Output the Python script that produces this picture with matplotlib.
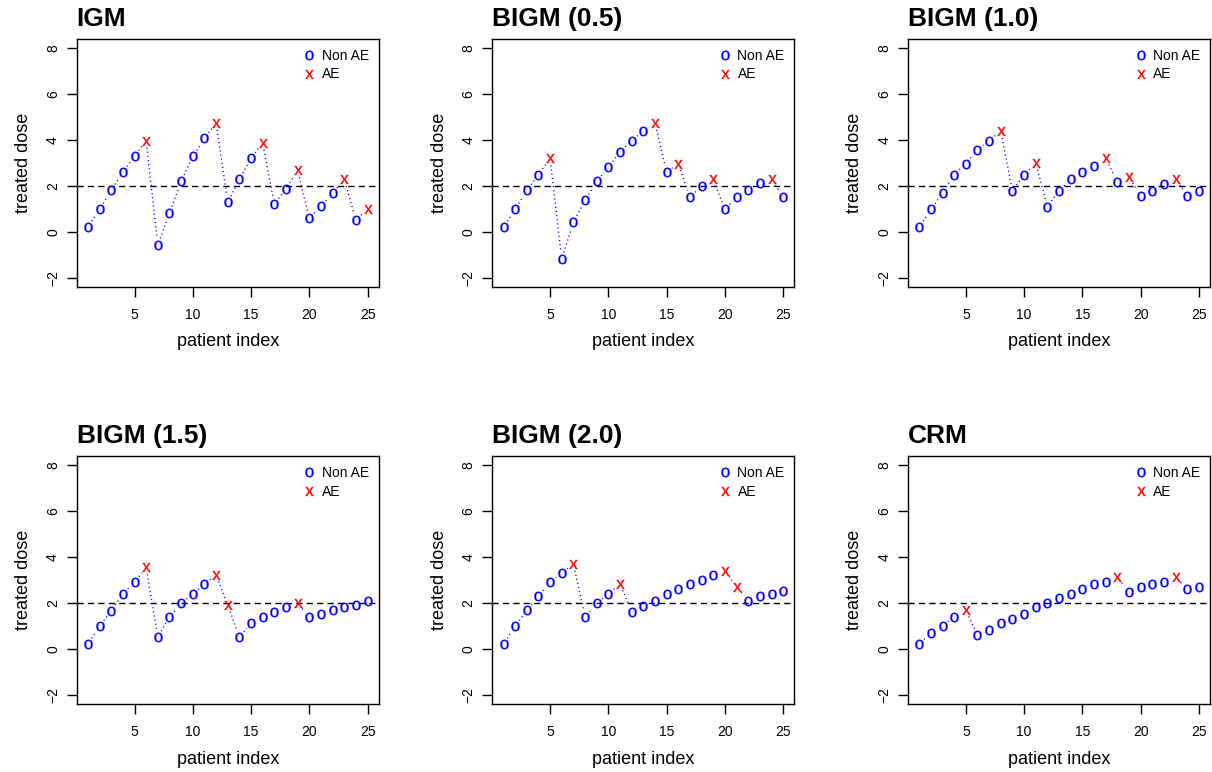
import matplotlib
matplotlib.use('Agg')
import matplotlib.pyplot as plt
import numpy as np
from matplotlib.lines import Line2D

plt.rcParams['font.family'] = ['Liberation Sans', 'DejaVu Sans']
plt.rcParams['mathtext.default'] = 'regular'

patients = np.arange(1, 26)

titles = ['IGM', 'BIGM (0.5)', 'BIGM (1.0)', 'BIGM (1.5)', 'BIGM (2.0)', 'CRM']

dose_igm = [0.20, 0.97, 1.80, 2.59, 3.29, 3.97, -0.58, 0.80, 2.19, 3.28, 4.06, 4.74, 1.28,
            2.28, 3.19, 3.87, 1.20, 1.87, 2.67, 0.58, 1.12, 1.67, 2.28, 0.51, 0.97]
dose_b05 = [0.20, 0.97, 1.80, 2.49, 3.19, -1.20, 0.42, 1.36, 2.19, 2.81, 3.49, 3.97, 4.38,
            4.74, 2.58, 2.97, 1.51, 1.97, 2.28, 0.97, 1.51, 1.81, 2.10, 2.28, 1.51]
dose_b10 = [0.20, 0.97, 1.68, 2.49, 2.97, 3.58, 3.97, 4.38, 1.78, 2.48, 2.99, 1.09, 1.78,
            2.28, 2.58, 2.88, 3.20, 2.17, 2.38, 1.57, 1.78, 2.07, 2.28, 1.57, 1.78]
dose_b15 = [0.20, 0.99, 1.67, 2.39, 2.91, 3.55, 0.51, 1.40, 1.98, 2.39, 2.82, 3.23, 1.91,
            0.51, 1.14, 1.41, 1.60, 1.82, 1.99, 1.40, 1.51, 1.69, 1.82, 1.92, 2.10]
dose_b20 = [0.20, 0.99, 1.69, 2.30, 2.91, 3.30, 3.71, 1.40, 1.98, 2.39, 2.84, 1.60, 1.89,
            2.10, 2.39, 2.61, 2.82, 3.01, 3.22, 3.41, 2.71, 2.10, 2.30, 2.40, 2.52]
dose_crm = [0.20, 0.70, 1.00, 1.40, 1.69, 0.60, 0.82, 1.12, 1.30, 1.51, 1.82, 1.99, 2.24,
            2.40, 2.62, 2.82, 2.91, 3.12, 2.50, 2.71, 2.82, 2.91, 3.12, 2.61, 2.70]

ae_igm = [6, 12, 16, 19, 23, 25]
ae_b05 = [5, 14, 16, 19, 24]
ae_b10 = [8, 11, 17, 19, 23]
ae_b15 = [6, 12, 13, 19]
ae_b20 = [7, 11, 20, 21]
ae_crm = [5, 18, 23]

doses = [dose_igm, dose_b05, dose_b10, dose_b15, dose_b20, dose_crm]
aes = [ae_igm, ae_b05, ae_b10, ae_b15, ae_b20, ae_crm]
target = 2.0

fig = plt.figure(figsize=(12.12, 7.72), dpi=100)
lefts = [0.0633, 0.4062, 0.7492]
bottoms = [0.6286, 0.0881]
w, h = 0.2492, 0.321

o_style = dict(ls='none', marker='$o$', ms=6.8, color='blue', mew=0.2)
x_style = dict(ls='none', marker='$x$', ms=6.5, color='red', mew=0.2)

for k in range(6):
    ax = fig.add_axes([lefts[k % 3], bottoms[k // 3], w, h])
    ax.set_xlim(0.04, 25.96)
    ax.set_ylim(-2.4, 8.4)
    y = np.array(doses[k])
    ae = np.isin(patients, aes[k])

    ax.axhline(target, color='black', lw=1, dashes=(4.5, 3))

    # dotted connectors with a gap around each point (like R type="b")
    pix = ax.transData.transform(np.column_stack([patients, y]))
    gap = 7
    for i in range(len(y) - 1):
        d = pix[i + 1] - pix[i]
        L = np.hypot(d[0], d[1])
        if L > 2 * gap:
            u = d / L
            seg = ax.transData.inverted().transform([pix[i] + u * gap, pix[i + 1] - u * gap])
            ax.plot(seg[:, 0], seg[:, 1], color='blue', lw=1, dashes=(0.8, 2.2))

    ax.plot(patients[~ae], y[~ae], **o_style)
    ax.plot(patients[ae], y[ae], **x_style)

    ax.set_xticks([5, 10, 15, 20, 25])
    ax.set_yticks([-2, 0, 2, 4, 6, 8])
    ax.tick_params(length=7, width=1, labelsize=10, pad=8)
    ax.tick_params(axis='y', labelrotation=90, pad=5)
    for lab in ax.get_yticklabels():
        lab.set_va('center')
    for s in ax.spines.values():
        s.set_linewidth(1)

    ax.set_xlabel('patient index', fontsize=13)
    ax.xaxis.set_label_coords(0.5, -0.188)
    ax.set_ylabel('treated dose', fontsize=13)
    ax.yaxis.set_label_coords(-0.148, 0.5)

    ax.text(0, 1.052, titles[k], transform=ax.transAxes, ha='left', va='baseline',
            fontsize=19, fontweight='bold')

    handles = [Line2D([], [], label='Non AE', **o_style),
               Line2D([], [], label='AE', **x_style)]
    ax.legend(handles=handles, loc='upper right', fontsize=10, frameon=False,
              handlelength=0.6, handletextpad=0.6, labelspacing=0.35, borderaxespad=0.3)

fig.savefig('out.png', dpi=100)
